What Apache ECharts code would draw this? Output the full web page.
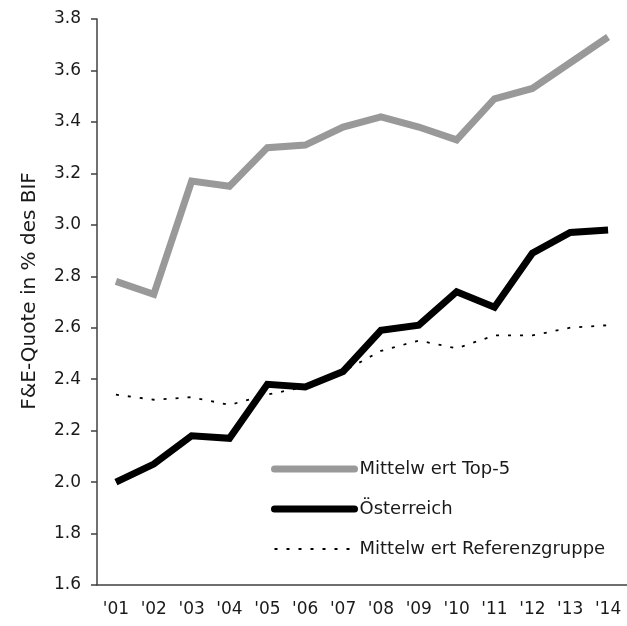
<!DOCTYPE html>
<html>
<head>
<meta charset="utf-8">
<script src="https://cdn.jsdelivr.net/npm/echarts@6/dist/echarts.min.js"></script>
<style>html,body{margin:0;padding:0;background:#fff}#c{width:627px;height:626px}</style>
</head>
<body>
<div id="c"></div>
<script>
const categories = ["'01","'02","'03","'04","'05","'06","'07","'08","'09","'10","'11","'12","'13","'14"];
const top5 = [2.78,2.73,3.17,3.15,3.30,3.31,3.38,3.42,3.38,3.33,3.49,3.53,3.63,3.73];
const oesterreich = [2.00,2.07,2.18,2.17,2.38,2.37,2.43,2.59,2.61,2.74,2.68,2.89,2.97,2.98];
const referenz = [2.34,2.32,2.33,2.30,2.34,2.37,2.43,2.51,2.55,2.52,2.57,2.57,2.60,2.61];
const seriesNames = ['Mittelw ert Top-5','Österreich','Mittelw ert Referenzgruppe'];
const yAxisName = 'F&E-Quote in % des BIF';

const chart = echarts.init(document.getElementById('c'));
const font = 'DejaVu Sans, sans-serif';
const txt = '#1a1a1a';
chart.setOption({
  animation: false,
  grid: {left: 97, right: 0, top: 19, bottom: 41, containLabel: false},
  legend: {
    orient: 'vertical', left: 271, top: 460, padding: 0, itemWidth: 80, itemHeight: 18, itemGap: 22,
    textStyle: {fontFamily: font, fontSize: 18, color: txt},
    data: [
      {name: seriesNames[0], itemStyle: {opacity: 0}, lineStyle: {width: 7, color: '#999999', cap: 'round'}},
      {name: seriesNames[1], itemStyle: {opacity: 0}, lineStyle: {width: 7, color: '#000000', cap: 'round'}},
      {name: seriesNames[2], itemStyle: {opacity: 0}, lineStyle: {width: 1.8, color: '#000000', type: [3, 9]}}
    ]
  },
  xAxis: {
    type: 'category', data: categories, boundaryGap: true,
    axisLine: {lineStyle: {color: '#404040', width: 1.5}},
    axisTick: {show: false},
    axisLabel: {fontFamily: font, fontSize: 17, color: txt, margin: 16}
  },
  yAxis: {
    type: 'value', min: 1.6, max: 3.8, interval: 0.2,
    name: yAxisName, nameLocation: 'middle', nameGap: 57,
    nameTextStyle: {fontFamily: font, fontSize: 20, color: txt, padding: [0, 0, 0, 22]},
    axisLine: {show: true, lineStyle: {color: '#404040', width: 1.5}},
    axisTick: {show: true, length: 6, lineStyle: {color: '#404040', width: 1.5}},
    splitLine: {show: false},
    axisLabel: {fontFamily: font, fontSize: 17, color: txt, margin: 16, formatter: v => v.toFixed(1)}
  },
  series: [
    {name: seriesNames[0], type: 'line', data: top5, symbol: 'none',
     lineStyle: {color: '#999999', width: 7, join: 'miter'}, itemStyle: {color: '#999999'}},
    {name: seriesNames[1], type: 'line', data: oesterreich, symbol: 'none',
     lineStyle: {color: '#000000', width: 7, join: 'miter'}, itemStyle: {color: '#000000'}},
    {name: seriesNames[2], type: 'line', data: referenz, symbol: 'none',
     lineStyle: {color: '#000000', width: 1.8, type: [3, 9]}, itemStyle: {color: '#000000'}}
  ]
});
</script>
</body>
</html>
